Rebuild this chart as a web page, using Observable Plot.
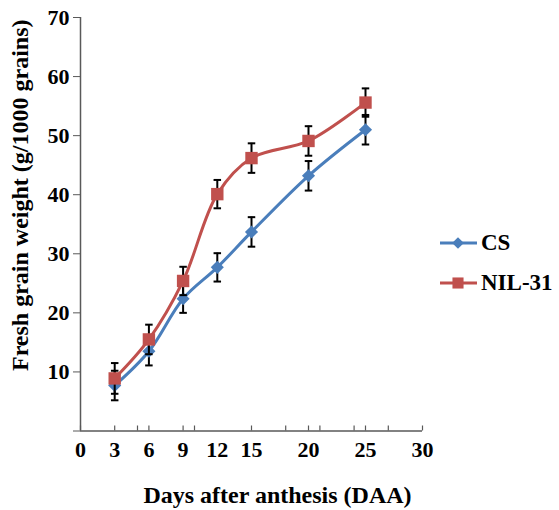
<!DOCTYPE html>
<html>
<head>
<meta charset="utf-8">
<script src="https://cdn.jsdelivr.net/npm/d3@7"></script>
<script src="https://cdn.jsdelivr.net/npm/@observablehq/plot@0.6"></script>
<style>
  body { margin: 0; background: white; }
  #wrap { position: relative; width: 559px; height: 510px; font-family: "Liberation Serif", "Times New Roman", serif; font-weight: bold; }
  .lg { position: absolute; display: flex; align-items: center; height: 24px; font-size: 23px; line-height: 24px; color: #000; }
  .lg svg { display: block; }
  .lg span { margin-left: 3px; }
</style>
</head>
<body>
<div id="wrap"></div>
<script>
// ---- data ----
const days = [3, 6, 9, 12, 15, 20, 25];
const csValues = [7.7, 13.5, 22.4, 27.7, 33.7, 43.2, 51.0];
const csErrors = [2.5, 2.4, 2.4, 2.4, 2.5, 2.5, 2.5];
const nilValues = [8.9, 15.5, 25.4, 40.1, 46.2, 49.1, 55.6];
const nilErrors = [2.6, 2.5, 2.4, 2.4, 2.5, 2.5, 2.4];
const seriesNames = ["CS", "NIL-31"];
const xTickLabels = [0, 3, 6, 9, 12, 15, 20, 25, 30];
const xTickMarks = [0, 3, 5, 6, 9, 10, 15, 18, 20, 21, 24, 25, 27, 30];
const yTicks = [0, 10, 20, 30, 40, 50, 60, 70];
const xTitle = "Days after anthesis (DAA)";
const yTitle = "Fresh grain weight (g/1000 grains)";

// ---- styling ----
const colors = {"CS": "#4A7EBB", "NIL-31": "#C0504D"};
const symbols = {"CS": "diamond2", "NIL-31": "square"};
const radii = {"CS": 5.9, "NIL-31": 7};
const axisColor = "#595959";
const W = 559, H = 510, mL = 80, mR = 137, mT = 17, mB = 79.5;
const plotH = H - mT - mB;

const series = [
  {name: seriesNames[0], values: csValues, errors: csErrors},
  {name: seriesNames[1], values: nilValues, errors: nilErrors}
];
const rows = series.flatMap(s => days.map((d, i) => ({
  series: s.name, day: d, value: s.values[i], err: s.errors[i]
})));

const capSymbol = {draw(ctx) { ctx.moveTo(-3.75, 0); ctx.lineTo(3.75, 0); }};

const marks = [
  Plot.ruleY([0], {stroke: axisColor, strokeWidth: 1.5}),
  Plot.ruleX([0], {stroke: axisColor, strokeWidth: 1.5}),
  Plot.axisY({ticks: yTicks, tickSize: 7, tickPadding: 4, stroke: axisColor, fill: "black",
    tickFormat: d => d === 0 ? "" : String(d), label: null}),
  Plot.axisX({ticks: xTickLabels, tickSize: 0, tickPadding: 10, fill: "black", label: null}),
  Plot.tickX(xTickMarks, {x: d => d, insetTop: plotH - 5, stroke: axisColor, strokeWidth: 1.2}),
  Plot.text([yTitle], {frameAnchor: "left", textAnchor: "middle", lineAnchor: "middle", rotate: -90,
    dx: -60, dy: -29, fontSize: 24, fill: "black"}),
  Plot.text([xTitle], {frameAnchor: "bottom", textAnchor: "middle", lineAnchor: "middle",
    dx: 26, dy: 64, fontSize: 24, fill: "black"})
];

for (const s of series) {
  const data = rows.filter(r => r.series === s.name);
  marks.push(
    Plot.line(data, {x: "day", y: "value", curve: "catmull-rom", stroke: colors[s.name], strokeWidth: 3}),
    Plot.ruleX(data, {x: "day", y1: d => d.value - d.err, y2: d => d.value + d.err, stroke: "black", strokeWidth: 2}),
    Plot.dot(data, {x: "day", y: d => d.value + d.err, symbol: capSymbol, stroke: "black", strokeWidth: 2, fill: "none"}),
    Plot.dot(data, {x: "day", y: d => d.value - d.err, symbol: capSymbol, stroke: "black", strokeWidth: 2, fill: "none"}),
    Plot.dot(data, {x: "day", y: "value", symbol: symbols[s.name], r: radii[s.name], fill: colors[s.name], stroke: "none"})
  );
}

const chart = Plot.plot({
  width: W, height: H,
  marginLeft: mL, marginRight: mR, marginTop: mT, marginBottom: mB,
  x: {domain: [0, 30]},
  y: {domain: [0, 70]},
  style: {fontFamily: "'Liberation Serif', 'Times New Roman', serif", fontWeight: "bold", fontSize: "22px",
          background: "white", color: "black", overflow: "visible"},
  marks
});
const wrap = document.getElementById("wrap");
wrap.appendChild(chart);

// ---- legend ----
const legendTops = [242.7, 283.3];
seriesNames.forEach((name, i) => {
  const item = document.createElement("div");
  item.className = "lg";
  item.style.left = "440px";
  item.style.top = (legendTops[i] - 12) + "px";
  const sw = d3.create("svg").attr("width", 38).attr("height", 24);
  sw.append("line").attr("x1", 0).attr("x2", 37).attr("y1", 12).attr("y2", 12)
    .attr("stroke", colors[name]).attr("stroke-width", 3);
  const sym = symbols[name] === "square" ? d3.symbolSquare : d3.symbolDiamond2;
  sw.append("path").attr("transform", "translate(18,12)")
    .attr("d", d3.symbol(sym, Math.PI * radii[name] * radii[name] * 0.8)())
    .attr("fill", colors[name]);
  item.appendChild(sw.node());
  const t = document.createElement("span");
  t.textContent = name;
  item.appendChild(t);
  wrap.appendChild(item);
});
</script>
</body>
</html>
